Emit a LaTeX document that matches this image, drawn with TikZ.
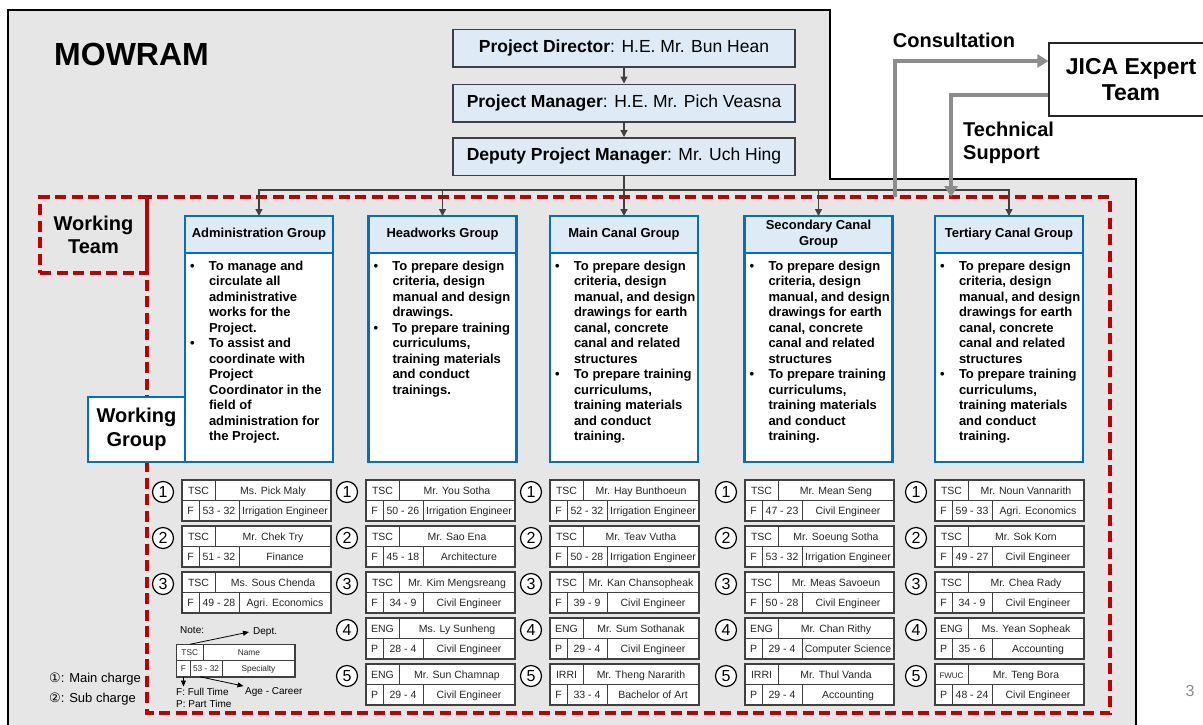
\documentclass[tikz,border=0pt]{standalone}
\usepackage{fontspec}
\setmainfont{Liberation Sans}
\newfontfamily\symfont{DejaVu Sans}
\usetikzlibrary{positioning,arrows.meta}

\definecolor{mowgray}{RGB}{231,230,230}
\definecolor{paleblue}{RGB}{222,235,247}
\definecolor{wgblue}{RGB}{0,112,192}
\definecolor{teamred}{RGB}{192,0,0}
\definecolor{jicagray}{RGB}{140,140,140}
\definecolor{framegray}{RGB}{64,64,64}

\tikzset{
  topbox/.style={draw=framegray, line width=1.5pt, fill=paleblue, minimum width=342pt,
    minimum height=37.5pt, inner sep=0pt, font=\fontsize{17.5}{20}\selectfont},
  grphead/.style={draw=wgblue, line width=2.6pt, fill=paleblue, minimum width=148pt,
    minimum height=37pt, inner sep=0pt, outer sep=0pt, align=center,
    font=\bfseries\fontsize{13}{16}\selectfont},
  grpbody/.style={draw=wgblue, line width=2.6pt, fill=white, minimum width=148pt,
    minimum height=209pt, inner xsep=5pt, inner ysep=6.5pt, outer sep=0pt, anchor=north,
    font=\bfseries\fontsize{13}{15.5}\selectfont},
  cell/.style={draw=framegray, fill=white, line width=0.7pt, inner sep=0pt, outer sep=0pt,
    minimum height=20.5pt, anchor=north west, text=black!85, text height=7.5pt,
    text depth=0pt, font=\fontsize{10.5}{12}\selectfont},
  idx/.style={circle, draw=black, line width=1.2pt, fill=white, minimum size=21pt,
    inner sep=0pt, font=\fontsize{16}{16}\selectfont},
  team/.style={draw=teamred, line width=4pt, dash pattern=on 11pt off 5.5pt},
  link/.style={draw=framegray, line width=1.3pt, -{Triangle[width=7pt,length=7pt]}},
  support/.style={draw=jicagray, line width=4pt, -{Triangle[width=13pt,length=11pt]}},
  pointer/.style={draw=black, line width=0.8pt, -{Triangle[width=5pt,length=6pt]}},
  tag/.style={font=\bfseries\fontsize{20}{23.5}\selectfont, align=center},
  note/.style={font=\fontsize{10}{12}\selectfont, inner sep=0pt}
}

% one staff entry: dept | name / time | age-career | specialty
\newcommand{\member}[8]{%
  \node[cell, minimum width=33pt] (#1-dept) at (#2,#3) {#4};
  \node[cell, minimum width=116pt] (#1-name) at (#1-dept.north east) {#5};
  \node[cell, minimum width=17pt] (#1-time) at (#1-dept.south west) {#6};
  \node[cell, minimum width=40pt] (#1-age) at (#1-time.north east) {#7};
  \node[cell, minimum width=92pt] (#1-spec) at (#1-age.north east) {#8};
  \draw[framegray, line width=1.5pt] (#1-dept.north west) rectangle (#1-spec.south east);
}

\newcommand{\duties}[1]{%
  \begin{minipage}[c][196pt][t]{138pt}%
    \begin{tabular}{@{}p{19pt}@{}l@{}}#1\end{tabular}%
  \end{minipage}}

\newcommand{\canalduties}{\duties{%
  \textbullet & To prepare design\\
  & criteria, design\\
  & manual, and design\\
  & drawings for earth\\
  & canal, concrete\\
  & canal and related\\
  & structures\\
  \textbullet & To prepare training\\
  & curriculums,\\
  & training materials\\
  & and conduct\\
  & training.}}

\begin{document}
\begin{tikzpicture}[x=1pt, y=-1pt]
\useasboundingbox (0,0) rectangle (1203,724);
\fill[white] (0,0) rectangle (1203,724);

% ministry block
\fill[mowgray] (8,10) -- (830,10) -- (830,179) -- (1136,179) -- (1136,730) -- (8,730) -- cycle;
\draw[black, line width=2pt] (8,730) -- (8,10) -- (830,10) -- (830,179) -- (1136,179) -- (1136,730);
\node[font=\bfseries\fontsize{32}{36}\selectfont, inner sep=0pt, anchor=west] (mowram) at (54,54) {MOWRAM};

\node[topbox] (pd) at (624,48) {\textbf{Project Director}: H.E. Mr. Bun Hean};
\node[topbox] (pm) at (624,103) {\textbf{Project Manager}: H.E. Mr. Pich Veasna};
\node[topbox] (dpm) at (624,156.5) {\textbf{Deputy Project Manager}: Mr. Uch Hing};
\draw[link] (pd) -- (pm);
\draw[link] (pm) -- (dpm);

% working team
\draw[team] (147,197) rectangle (1110,713);
\node[team, tag, minimum width=107pt, minimum height=76pt] (wt) at (93.5,235) {Working\\Team};

% groups
\node[grphead] (adm) at (259,234.5) {Administration Group};
\node[grpbody] (adm-body) at (adm.south) {\duties{%
  \textbullet & To manage and\\
  & circulate all\\
  & administrative\\
  & works for the\\
  & Project.\\
  \textbullet & To assist and\\
  & coordinate with\\
  & Project\\
  & Coordinator in the\\
  & field of\\
  & administration for\\
  & the Project.}};

\node[grphead] (hw) at (442.5,234.5) {Headworks Group};
\node[grpbody] (hw-body) at (hw.south) {\duties{%
  \textbullet & To prepare design\\
  & criteria, design\\
  & manual and design\\
  & drawings.\\
  \textbullet & To prepare training\\
  & curriculums,\\
  & training materials\\
  & and conduct\\
  & trainings.}};

\node[grphead] (mc) at (624,234.5) {Main Canal Group};
\node[grpbody] (mc-body) at (mc.south) {\canalduties};

\node[grphead] (sc) at (818.5,234.5) {Secondary Canal\\Group};
\node[grpbody] (sc-body) at (sc.south) {\canalduties};

\node[grphead] (tc) at (1009,234.5) {Tertiary Canal Group};
\node[grpbody] (tc-body) at (tc.south) {\canalduties};

\node[draw=wgblue, line width=2.6pt, fill=white, tag, minimum width=97pt,
  minimum height=65pt] (wg) at (136.5,429.5) {Working\\Group};

\coordinate (bus) at (624,190);
\draw[link] (dpm) -- (mc);
\foreach \g in {adm,hw,sc,tc}
  \draw[link] (bus) -| (\g);

% JICA side
\node[draw=black!85, line width=1.2pt, fill=white, font=\bfseries\fontsize{23}{26}\selectfont,
  align=center, minimum width=164pt, minimum height=73pt] (jica) at (1131,79.5) {JICA Expert\\Team};
\coordinate (cons) at (895,197);
\coordinate (tech) at (951,197);
\draw[support] (cons) |- ([yshift=18.5pt]jica.west);
\draw[support] ([yshift=-15.5pt]jica.west) -| (tech);
\node[tag] (consl) at (954,40.7) {Consultation};
\node[tag, anchor=west, align=left, inner sep=0pt] (techl) at (963,143) {Technical\\Support};

% members
\foreach \grp/\col/\i/\dept/\who/\ftime/\age/\spec in {
  adm/182/1/TSC/Ms. Pick Maly/F/53 - 32/Irrigation Engineer,
  adm/182/2/TSC/Mr. Chek Try/F/51 - 32/Finance,
  adm/182/3/TSC/Ms. Sous Chenda/F/49 - 28/Agri. Economics,
  hw/366/1/TSC/Mr. You Sotha/F/50 - 26/Irrigation Engineer,
  hw/366/2/TSC/Mr. Sao Ena/F/45 - 18/Architecture,
  hw/366/3/TSC/Mr. Kim Mengsreang/F/34 - 9/Civil Engineer,
  hw/366/4/ENG/Ms. Ly Sunheng/P/28 - 4/Civil Engineer,
  hw/366/5/ENG/Mr. Sun Chamnap/P/29 - 4/Civil Engineer,
  mc/550/1/TSC/Mr. Hay Bunthoeun/F/52 - 32/Irrigation Engineer,
  mc/550/2/TSC/Mr. Teav Vutha/F/50 - 28/Irrigation Engineer,
  mc/550/3/TSC/Mr. Kan Chansopheak/F/39 - 9/Civil Engineer,
  mc/550/4/ENG/Mr. Sum Sothanak/P/29 - 4/Civil Engineer,
  mc/550/5/IRRI/Mr. Theng Nararith/F/33 - 4/Bachelor of Art,
  sc/745/1/TSC/Mr. Mean Seng/F/47 - 23/Civil Engineer,
  sc/745/2/TSC/Mr. Soeung Sotha/F/53 - 32/Irrigation Engineer,
  sc/745/3/TSC/Mr. Meas Savoeun/F/50 - 28/Civil Engineer,
  sc/745/4/ENG/Mr. Chan Rithy/P/29 - 4/Computer Science,
  sc/745/5/IRRI/Mr. Thul Vanda/P/29 - 4/Accounting,
  tc/935/1/TSC/Mr. Noun Vannarith/F/59 - 33/Agri. Economics,
  tc/935/2/TSC/Mr. Sok Korn/F/49 - 27/Civil Engineer,
  tc/935/3/TSC/Mr. Chea Rady/F/34 - 9/Civil Engineer,
  tc/935/4/ENG/Ms. Yean Sopheak/P/35 - 6/Accounting,
  tc/935/5/{\fontsize{8}{9}\selectfont FWUC}/Mr. Teng Bora/P/48 - 24/Civil Engineer}{
  \node[idx] (\grp\i-no) at (\col-19,446+46*\i) {\i};
  \member{\grp\i}{\col}{434+46*\i}{\dept}{\who}{\ftime}{\age}{\spec}
}

% note
\node[note, anchor=west] (notel) at (180,630) {Note:};
\begin{scope}[shift={(176.7,644.3)}, scale=0.794, transform shape]
  \member{note}{0}{0}{TSC}{Name}{F}{53 - 32}{Specialty}
\end{scope}
\node[note, anchor=west, inner xsep=4pt] (deptl) at (249,632) {Dept.};
\draw[pointer] (note-dept.north) -- (deptl.west);
\node[note, anchor=north west, align=left, inner ysep=1.5pt] (ftimel) at (176,686.5) {F: Full Time\\P: Part Time};
\draw[pointer] (note-time.south) -- (note-time.south |- ftimel.north);
\node[note, anchor=west, inner sep=1.5pt] (agel) at (243.5,692.3) {Age - Career};
\draw[pointer] ([xshift=10pt]note-age.south west) -- (agel.north west);

\node[font=\fontsize{13}{15}\selectfont, anchor=west, inner sep=0pt] (mainl) at (49,679) {{\symfont ①}: Main charge};
\node[font=\fontsize{13}{15}\selectfont, anchor=west, inner sep=0pt] (subl) at (49,699) {{\symfont ②}: Sub charge};

\node[text=jicagray, font=\fontsize{16}{16}\selectfont] (pageno) at (1190,690.5) {3};
\end{tikzpicture}
\end{document}
